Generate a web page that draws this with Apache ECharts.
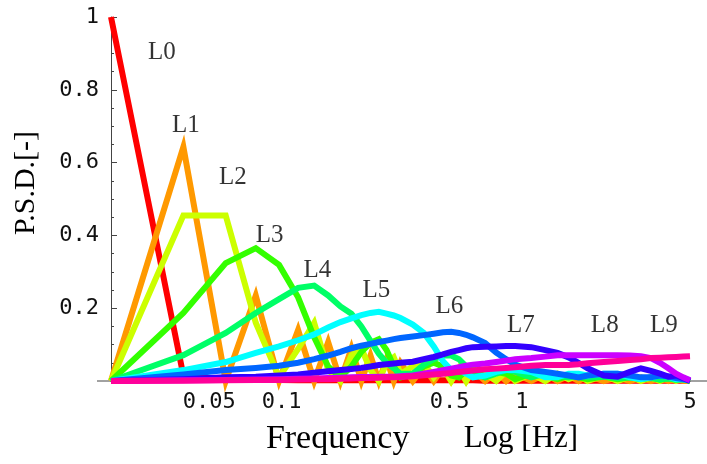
<!DOCTYPE html>
<html>
<head>
<meta charset="utf-8">
<script src="https://cdn.jsdelivr.net/npm/echarts@6/dist/echarts.min.js"></script>
<style>
  html, body { margin: 0; padding: 0; background: #fff; }
  #chart { width: 707px; height: 464px; }
</style>
</head>
<body>
<div id="chart"></div>
<script>
// frequency grid [Hz] (k / 51.2)
const freq = [0.01953, 0.03906, 0.05859, 0.07813, 0.09766, 0.1172, 0.1367, 0.1563, 0.1758, 0.1953,
  0.2148, 0.2344, 0.2539, 0.2734, 0.293, 0.3125, 0.3516, 0.3906, 0.4297, 0.4688,
  0.5078, 0.5469, 0.5859, 0.625, 0.7031, 0.7813, 0.8594, 0.9375, 1.094, 1.25,
  1.406, 1.563, 1.719, 1.875, 2.188, 2.5, 2.813, 3.125, 3.438, 3.75,
  4.063, 4.375, 4.688, 5]

const L0 = [1.0, 0.015, 0.004, 0.003, 0.003, 0.002, 0.002, 0.002, 0.002, 0.002,
  0.002, 0.002, 0.002, 0.002, 0.002, 0.002, 0.002, 0.002, 0.002, 0.002,
  0.002, 0.002, 0.002, 0.002, 0.001, 0.001, 0.001, 0.001, 0.001, 0.001,
  0.001, 0.001, 0.001, 0.001, 0.001, 0.001, 0.001, 0.001, 0.001, 0.001,
  0.001, 0.001, 0.001, 0.001]
const L1 = [0, 0.643, 0, 0.235, 0, 0.14, 0, 0.107, 0, 0.09,
  0, 0.07, 0, 0.06, 0, 0.05, 0, 0.04, 0, 0.035,
  0, 0.03, 0, 0.03, 0, 0.025, 0, 0.02, 0, 0.02,
  0, 0.015, 0, 0.015, 0, 0.01, 0, 0.01, 0, 0.01,
  0, 0.008, 0, 0]
const L2 = [0, 0.455, 0.455, 0.16, 0.01, 0.088, 0.16, 0.03, 0, 0.07,
  0.09, 0.03, 0, 0.05, 0.065, 0.02, 0.04, 0.05, 0.01, 0.04,
  0, 0.035, 0, 0.03, 0.02, 0, 0.025, 0, 0.02, 0,
  0.02, 0.005, 0.015, 0, 0.015, 0, 0.012, 0, 0.01, 0,
  0.01, 0, 0.008, 0]
const L3 = [0, 0.187, 0.324, 0.365, 0.319, 0.23, 0.12, 0.04, 0.01, 0.04,
  0.08, 0.105, 0.115, 0.085, 0.04, 0.01, 0.02, 0.04, 0.05, 0.04,
  0.015, 0.01, 0.03, 0.035, 0.01, 0.025, 0.02, 0.005, 0.02, 0.015,
  0.005, 0.015, 0.01, 0.005, 0.012, 0.005, 0.01, 0.005, 0.01, 0.003,
  0.008, 0.003, 0.006, 0]
const L4 = [0, 0.071, 0.132, 0.187, 0.225, 0.256, 0.262, 0.235, 0.205, 0.185,
  0.15, 0.11, 0.075, 0.05, 0.035, 0.02, 0.02, 0.045, 0.06, 0.07,
  0.07, 0.06, 0.04, 0.02, 0.01, 0.02, 0.03, 0.025, 0.01, 0.02,
  0.015, 0.01, 0.015, 0.01, 0.012, 0.008, 0.01, 0.006, 0.008, 0.005,
  0.007, 0.004, 0.005, 0]
const L5 = [0, 0.03, 0.052, 0.077, 0.095, 0.112, 0.128, 0.147, 0.162, 0.172,
  0.181, 0.187, 0.19, 0.185, 0.18, 0.173, 0.155, 0.132, 0.095, 0.055,
  0.03, 0.03, 0.02, 0.01, 0.015, 0.025, 0.03, 0.03, 0.025, 0.01,
  0.01, 0.02, 0.02, 0.015, 0.02, 0.02, 0.01, 0.005, 0.01, 0.015,
  0.012, 0.005, 0.005, 0.002]
const L6 = [0, 0.018, 0.03, 0.036, 0.042, 0.05, 0.06, 0.07, 0.08, 0.09,
  0.097, 0.102, 0.107, 0.111, 0.115, 0.118, 0.122, 0.126, 0.13, 0.134,
  0.135, 0.132, 0.127, 0.12, 0.104, 0.078, 0.06, 0.045, 0.03, 0.025,
  0.02, 0.015, 0.01, 0.015, 0.02, 0.02, 0.015, 0.01, 0.01, 0.015,
  0.012, 0.008, 0.005, 0.003]
const L7 = [0, 0.005, 0.01, 0.012, 0.015, 0.018, 0.023, 0.027, 0.03, 0.033,
  0.036, 0.04, 0.044, 0.046, 0.048, 0.05, 0.053, 0.06, 0.066, 0.073,
  0.08, 0.085, 0.09, 0.093, 0.094, 0.095, 0.096, 0.096, 0.093, 0.085,
  0.077, 0.065, 0.05, 0.035, 0.015, 0.012, 0.025, 0.035, 0.028, 0.02,
  0.012, 0.015, 0.008, 0]
const L8 = [0, 0.002, 0.003, 0.004, 0.005, 0.006, 0.007, 0.008, 0.009, 0.01,
  0.011, 0.011, 0.012, 0.012, 0.012, 0.013, 0.015, 0.02, 0.025, 0.03,
  0.034, 0.038, 0.042, 0.045, 0.048, 0.052, 0.056, 0.06, 0.063, 0.067,
  0.071, 0.071, 0.071, 0.071, 0.071, 0.071, 0.07, 0.068, 0.063, 0.05,
  0.035, 0.02, 0.01, 0.002]
const L9 = [0, 0.001, 0.002, 0.003, 0.003, 0.004, 0.005, 0.005, 0.006, 0.007,
  0.008, 0.008, 0.009, 0.01, 0.01, 0.011, 0.013, 0.016, 0.018, 0.02,
  0.022, 0.025, 0.027, 0.029, 0.032, 0.034, 0.036, 0.038, 0.042, 0.044,
  0.044, 0.044, 0.046, 0.049, 0.052, 0.055, 0.058, 0.06, 0.063, 0.064,
  0.065, 0.066, 0.067, 0.068]

const levels = [L0, L1, L2, L3, L4, L5, L6, L7, L8, L9]
const levelNames = ['L0', 'L1', 'L2', 'L3', 'L4', 'L5', 'L6', 'L7', 'L8', 'L9']
const colors = ['#ff0000', '#ff9900', '#ccff00', '#33ff00', '#00ff66',
  '#00ffff', '#0066ff', '#3300ff', '#cc00ff', '#ff0099']

// where the level names sit (data coords)
const labelFreq = [0.0318, 0.040, 0.0627, 0.0893, 0.141, 0.248, 0.499, 0.99, 2.21, 3.89]
const labelPsd = [0.904, 0.703, 0.558, 0.401, 0.305, 0.25, 0.206, 0.154, 0.154, 0.154]

const xTicks = [0.05, 0.1, 0.5, 1, 5]

const serif = '"Liberation Serif", "DejaVu Serif", serif'
const mono = '"DejaVu Sans Mono", monospace'

const lineSeries = levels.map((vals, i) => ({
  name: levelNames[i],
  type: 'line',
  data: vals.map((v, j) => [freq[j], v]),
  showSymbol: false,
  clip: false,
  lineStyle: { color: colors[i], width: 6, join: 'miter', miterLimit: 12 },
  itemStyle: { color: colors[i] },
  z: 2 + i
}))

const labelSeries = {
  type: 'scatter',
  data: levelNames.map((n, i) => ({ name: n, value: [labelFreq[i], labelPsd[i]] })),
  symbolSize: 1,
  itemStyle: { color: 'rgba(0,0,0,0)' },
  label: {
    show: true,
    position: 'inside',
    formatter: p => p.name,
    fontFamily: serif,
    fontSize: 25,
    color: '#000'
  },
  z: 20
}

const chart = echarts.init(document.getElementById('chart'))
chart.setOption({
  animation: false,
  backgroundColor: '#fff',
  grid: { left: 111, right: 17, top: 17, bottom: 83 },
  xAxis: {
    type: 'log',
    min: 0.01953,
    max: 5,
    name: '{f|Frequency}{l|       Log [Hz]}',
    nameLocation: 'middle',
    nameGap: 41,
    nameTextStyle: {
      fontFamily: serif, fontSize: 31, color: '#000', padding: [0, 0, 0, 43],
      rich: {
        f: { fontFamily: serif, fontSize: 34, color: '#000' },
        l: { fontFamily: serif, fontSize: 31, color: '#000' }
      }
    },
    axisLine: { lineStyle: { color: '#444', width: 1 } },
    axisTick: { show: false },
    splitLine: { show: false },
    minorSplitLine: { show: false },
    axisLabel: {
      customValues: xTicks,
      formatter: v => String(v),
      fontFamily: mono,
      fontSize: 22,
      color: '#111',
      margin: 10
    }
  },
  yAxis: {
    type: 'value',
    min: 0,
    max: 1,
    interval: 0.2,
    name: 'P.S.D.[-]',
    nameLocation: 'middle',
    nameGap: 70,
    nameTextStyle: { fontFamily: serif, fontSize: 30, color: '#000', padding: [0, 0, 0, 32] },
    axisLine: { show: true, lineStyle: { color: '#444', width: 1 } },
    axisTick: { show: true, inside: true, length: 6, lineStyle: { color: '#444' } },
    minorTick: { show: true, splitNumber: 4, length: 3, lineStyle: { color: '#444' } },
    splitLine: { show: false },
    axisLabel: {
      formatter: v => (v === 0 ? '' : String(v)),
      fontFamily: mono,
      fontSize: 22,
      color: '#111',
      margin: 12
    }
  },
  graphic: [{
    type: 'line',
    shape: { x1: 97, y1: 381, x2: 707, y2: 381 },
    style: { stroke: '#444', lineWidth: 1 },
    z: 0
  }],
  series: [...lineSeries, labelSeries]
})
</script>
</body>
</html>
